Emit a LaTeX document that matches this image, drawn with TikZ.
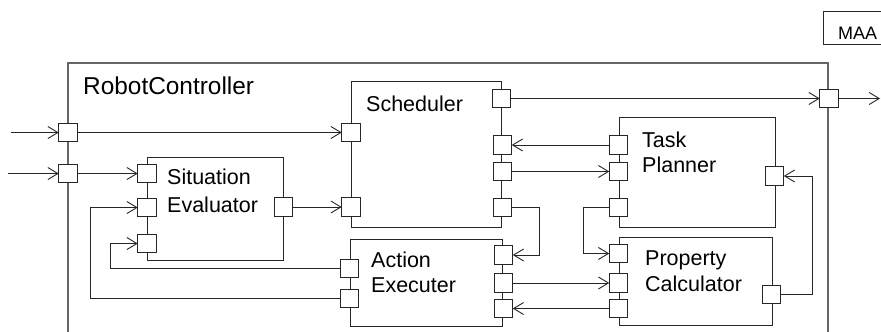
\documentclass[tikz,border=0pt]{standalone}
\usepackage{fontspec}
\setmainfont{Liberation Sans}
\usetikzlibrary{arrows.meta}
\begin{document}
\begin{tikzpicture}[x=1pt,y=-1pt,
 port/.style={draw=black!85,line width=1pt,fill=white,minimum width=18.5pt,minimum height=18.5pt,inner sep=0pt,outer sep=0pt},
 comp/.style={draw=black!85,line width=1pt,inner sep=0pt,outer sep=0pt},
 frame/.style={draw=black!60,line width=1.4pt},
 arr/.style={draw=black!85,line width=0.9pt,-{Straight Barb[length=10pt,width=12pt,line width=0.9pt]}},
 lbl/.style={anchor=base west,inner sep=0pt,font=\fontsize{21.5}{25}\selectfont},
]
\useasboundingbox (0,0) rectangle (881,332);
\fill[white] (0,0) rectangle (881,332);

% outer frame
\draw[frame] (68,332) -- (68,63) -- (828,63) -- (828,332);
\node[lbl,font=\fontsize{24.4}{28}\selectfont] (rcl) at (83,94) {RobotController};

% MAA
\node[comp,minimum width=58pt,minimum height=33pt] (maa) at (852,28) {};
\node[lbl,font=\fontsize{18}{21}\selectfont] (maal) at (838,39) {MAA};

% components
\node[comp,minimum width=136pt,minimum height=103pt] (se) at (215,208.5) {};
\node[comp,minimum width=150pt,minimum height=146pt] (sc) at (426,154) {};
\node[comp,minimum width=152pt,minimum height=87pt] (ae) at (426,282.5) {};
\node[comp,minimum width=156pt,minimum height=110pt] (tp) at (697,172) {};
\node[comp,minimum width=153pt,minimum height=88pt] (pc) at (695.5,281) {};

% labels
\node[lbl] (sel1) at (167,184) {Situation};
\node[lbl] (sel2) at (167,212) {Evaluator};
\node[lbl] (scl) at (366,111) {Scheduler};
\node[lbl] (ael1) at (371,267) {Action};
\node[lbl] (ael2) at (371,292) {Executer};
\node[lbl] (tpl1) at (642,147) {Task};
\node[lbl] (tpl2) at (642,172) {Planner};
\node[lbl] (pcl1) at (645,265) {Property};
\node[lbl] (pcl2) at (645,291) {Calculator};

% ports
\node[port] (fp1) at (68,132.5) {};
\node[port] (fp2) at (68,173.5) {};
\node[port] (fp3) at (829,98.5) {};
\node[port] (se1) at (147,173.5) {};
\node[port] (se2) at (147,207.5) {};
\node[port] (se3) at (147,243.5) {};
\node[port] (seo) at (283.5,207) {};
\node[port] (sc1) at (351,132.5) {};
\node[port] (sc2) at (351,207) {};
\node[port] (sr1) at (501.5,98.5) {};
\node[port] (sr2) at (502.5,145) {};
\node[port] (sr3) at (502.5,171.5) {};
\node[port] (sr4) at (502.5,207.5) {};
\node[port] (ae1) at (349.5,268.5) {};
\node[port] (ae2) at (349.5,298.5) {};
\node[port] (ar1) at (503.5,255) {};
\node[port] (ar2) at (503.5,283) {};
\node[port] (ar3) at (503.5,308.5) {};
\node[port] (tp1) at (618.5,145) {};
\node[port] (tp2) at (618.5,171.5) {};
\node[port] (tp3) at (618.5,207.5) {};
\node[port] (tpr) at (774.5,176) {};
\node[port] (pc1) at (618.5,253.5) {};
\node[port] (pc2) at (618.5,283) {};
\node[port] (pc3) at (618.5,308.5) {};
\node[port] (pcr) at (771.5,294.5) {};

% free ends and bends
\coordinate (in1) at (11,132.5);
\coordinate (in2) at (8,173.5);
\coordinate (out1) at (880,98.5);
\coordinate (k1) at (539,207.5);
\coordinate (k2) at (110,268.5);
\coordinate (k3) at (90,298.5);
\coordinate (k4) at (583,207.5);
\coordinate (k5) at (812,294.5);

% connectors
\draw[arr] (in1) -- (fp1.west);
\draw[arr] (in2) -- (fp2.west);
\draw[arr] (fp1.east) -- (sc1.west);
\draw[arr] (fp2.east) -- (se1.west);
\draw[arr] (seo.east) -- (sc2.west);
\draw[arr] (sr1.east) -- (fp3.west);
\draw[arr] (fp3.east) -- (out1);
\draw[arr] (tp1.west) -- (sr2.east);
\draw[arr] (sr3.east) -- (tp2.west);
\draw[arr] (sr4.east) -- (k1) |- (ar1.east);
\draw[arr] (ae1.west) -- (k2) |- (se3.west);
\draw[arr] (ae2.west) -- (k3) |- (se2.west);
\draw[arr] (ar2.east) -- (pc2.west);
\draw[arr] (pc3.west) -- (ar3.east);
\draw[arr] (tp3.west) -- (k4) |- (pc1.west);
\draw[arr] (pcr.east) -- (k5) |- (tpr.east);
\end{tikzpicture}
\end{document}
